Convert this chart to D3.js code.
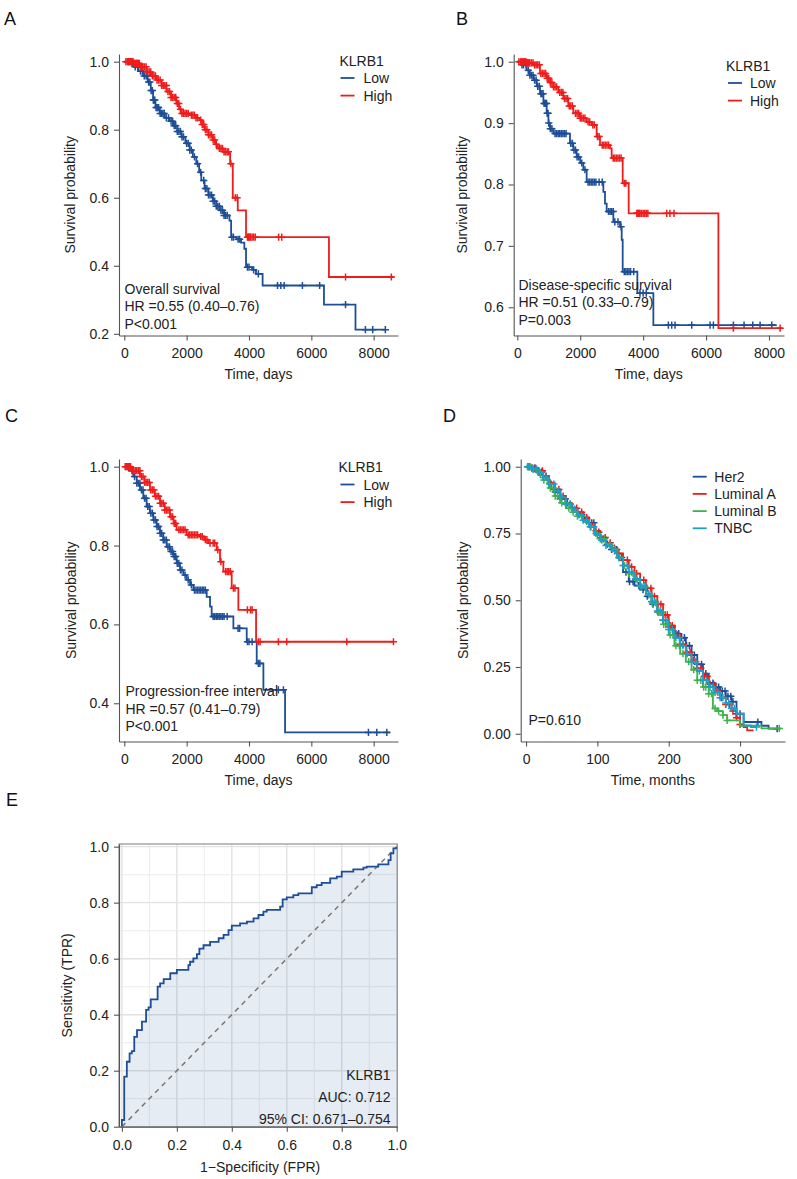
<!DOCTYPE html>
<html><head><meta charset="utf-8">
<script src="https://cdn.jsdelivr.net/npm/d3@7"></script>
<style>
body{margin:0;background:#fff}
svg text{font-family:'Liberation Sans',Arial,Helvetica,sans-serif}
</style>
</head><body>
<svg id="c" width="797" height="1179"></svg>
<script>
// ---------------- DATA ----------------
// Panel A: overall survival (time in days, survival probability)
const osLowSteps = [[0,1],[150,0.995],[300,0.985],[450,0.972],[600,0.958],[750,0.94],[850,0.915],[925,0.887],[1000,0.865],[1140,0.848],[1300,0.835],[1450,0.825],[1565,0.812],[1700,0.795],[1830,0.779],[1960,0.76],[2096,0.74],[2200,0.72],[2310,0.70],[2400,0.675],[2470,0.651],[2575,0.627],[2700,0.608],[2840,0.59],[2950,0.575],[3054,0.563],[3200,0.548],[3373,0.533],[3426,0.484],[3600,0.478],[3745,0.468],[3850,0.45],[3905,0.396],[4100,0.388],[4224,0.376],[4437,0.342],[6405,0.286],[7416,0.212],[8374,0.212]];
const osLowCensor = [120,250,350,430,520,580,640,700,740,780,820,860,900,930,950,980,1020,1050,1080,1100,1150,1200,1240,1280,1350,1420,1500,1550,1600,1650,1700,1750,1800,1850,1900,2000,2050,2100,2150,2250,2350,2450,2550,2600,2650,2700,2750,2800,2850,2900,2950,3000,3050,3100,3150,3200,3250,3300,3450,3500,3650,3700,3950,4000,4150,4300,4915,5021,5128,5714,6267,7097,7735,7969,8374];
const osHighSteps = [[0,1],[287,0.995],[500,0.985],[713,0.97],[870,0.958],[1032,0.946],[1200,0.93],[1351,0.912],[1500,0.895],[1670,0.877],[1760,0.86],[1830,0.848],[2096,0.843],[2300,0.835],[2415,0.828],[2500,0.815],[2575,0.80],[2700,0.785],[2840,0.77],[2920,0.757],[3000,0.745],[3160,0.735],[3373,0.73],[3394,0.70],[3480,0.60],[3640,0.563],[3905,0.484],[6565,0.367],[8640,0.367]];
const osHighCensor = [50,100,130,150,180,200,230,250,280,300,330,350,380,400,420,450,480,520,550,580,600,650,700,750,800,850,900,950,1000,1050,1100,1150,1200,1250,1300,1350,1400,1450,1500,1550,1600,1650,1700,1750,1800,1850,1900,1950,2000,2050,2150,2200,2250,2300,2350,2450,2500,2550,2600,2650,2700,2750,2800,2850,2900,2950,3050,3100,3150,3200,3250,3300,3340,3420,3560,3620,3950,3980,4000,4030,4050,4100,4150,4200,4950,5050,7097,8566];

// Panel B: disease-specific survival
const dssLowSteps = [[0,1],[150,0.995],[297,0.986],[400,0.978],[509,0.970],[620,0.96],[721,0.948],[830,0.932],[933,0.916],[990,0.90],[1039,0.891],[1145,0.883],[1675,0.867],[1780,0.856],[1887,0.845],[2000,0.835],[2099,0.824],[2205,0.804],[2735,0.788],[2788,0.769],[2841,0.756],[3053,0.739],[3265,0.731],[3318,0.710],[3350,0.658],[3816,0.623],[4325,0.571],[8247,0.571]];
const dssLowCensor = [150,200,280,350,400,450,500,550,600,650,700,750,780,820,850,880,900,930,950,980,1000,1050,1100,1200,1250,1300,1350,1400,1450,1500,1550,1700,1750,1800,1850,1900,1950,2050,2150,2250,2300,2350,2400,2450,2500,2600,2700,2900,2950,3000,3050,3100,3200,3300,3400,3450,3500,3550,3600,3700,3900,4000,4100,4802,4908,5014,5544,6127,6233,6869,7208,7484,7717,8088];
const dssHighSteps = [[0,1],[300,0.998],[509,0.995],[721,0.981],[933,0.973],[1040,0.966],[1145,0.959],[1300,0.95],[1463,0.940],[1620,0.928],[1781,0.916],[1993,0.908],[2200,0.902],[2364,0.897],[2523,0.878],[2629,0.864],[2947,0.859],[3000,0.843],[3350,0.802],[3540,0.753],[6392,0.566],[8438,0.566]];
const dssHighCensor = [50,100,130,150,180,200,230,250,280,300,330,350,380,400,450,500,550,600,650,700,750,800,850,900,950,1000,1050,1100,1150,1200,1250,1350,1400,1450,1500,1550,1600,1650,1700,1750,1850,1900,1950,2000,2050,2100,2150,2250,2300,2400,2450,2550,2600,2700,2750,2800,2850,2900,3050,3100,3150,3200,3250,3300,3400,3450,3800,3830,3850,3880,3900,3950,4000,4050,4100,4150,4750,4850,4980,6869,8353];

// Panel C: progression-free interval
const pfiLowSteps = [[0,1],[150,0.99],[289,0.975],[400,0.958],[503,0.941],[610,0.92],[717,0.899],[820,0.882],[931,0.865],[1040,0.848],[1145,0.831],[1250,0.814],[1359,0.797],[1470,0.785],[1573,0.772],[1680,0.755],[1787,0.738],[1900,0.725],[2001,0.713],[2110,0.70],[2215,0.687],[2643,0.670],[2750,0.645],[2803,0.620],[3499,0.590],[3927,0.556],[4248,0.501],[4462,0.434],[5157,0.326],[8528,0.326]];
const pfiLowCensor = [120,250,330,400,450,500,550,600,650,700,750,800,850,900,950,1000,1050,1100,1150,1200,1250,1300,1350,1400,1450,1500,1550,1600,1650,1700,1750,1800,1850,1950,2050,2150,2250,2300,2350,2400,2450,2500,2550,2600,2850,2900,2950,3000,3050,3100,3150,3200,3300,3650,3700,3950,4000,4100,4300,4350,4943,5104,7832,8100,8421];
const pfiHighSteps = [[0,1],[250,0.99],[503,0.975],[650,0.96],[824,0.941],[980,0.925],[1145,0.907],[1300,0.89],[1466,0.873],[1580,0.856],[1680,0.84],[2001,0.827],[2429,0.823],[2560,0.815],[2696,0.806],[2964,0.789],[3071,0.759],[3178,0.734],[3445,0.692],[3659,0.637],[4227,0.556],[8635,0.556]];
const pfiHighCensor = [30,60,100,130,150,180,200,250,300,350,400,450,500,550,600,650,700,750,800,850,900,950,1000,1050,1100,1150,1200,1250,1300,1350,1400,1450,1500,1550,1600,1650,1750,1800,1850,1900,1950,2050,2100,2150,2200,2250,2300,2350,2450,2500,2600,2650,2750,2850,2900,3000,3100,3250,3300,3350,3400,3500,3550,3950,4050,4100,4300,4355,4943,5210,7137,8635];

// Panel D: subtypes (time in months)
const subtypeNames = ["Her2","Luminal A","Luminal B","TNBC"];
const her2Steps = [[0,1],[8,0.995],[16,0.98],[24,0.962],[32,0.935],[40,0.905],[48,0.88],[56,0.86],[64,0.84],[72,0.822],[80,0.805],[88,0.79],[96,0.755],[104,0.73],[112,0.71],[120,0.69],[128,0.66],[136,0.605],[144,0.57],[152,0.555],[160,0.54],[168,0.515],[176,0.485],[184,0.455],[192,0.425],[200,0.40],[208,0.375],[216,0.36],[224,0.33],[232,0.295],[240,0.26],[248,0.225],[256,0.19],[264,0.175],[272,0.16],[280,0.14],[288,0.12],[295,0.075],[305,0.044],[330,0.03],[340,0.019],[352,0.019]];
const lumASteps = [[0,1],[8,0.995],[16,0.985],[24,0.965],[32,0.94],[40,0.915],[48,0.89],[56,0.865],[64,0.845],[72,0.83],[80,0.81],[88,0.785],[96,0.76],[104,0.735],[112,0.715],[120,0.695],[128,0.675],[136,0.65],[144,0.625],[152,0.60],[160,0.575],[168,0.545],[176,0.515],[184,0.485],[192,0.445],[200,0.405],[208,0.37],[216,0.335],[224,0.305],[232,0.275],[240,0.245],[248,0.215],[256,0.185],[264,0.16],[272,0.135],[280,0.11],[288,0.085],[295,0.06],[300,0.035],[305,0.025],[310,0.0125],[319,0.0125]];
const lumBSteps = [[0,1],[8,0.99],[16,0.975],[24,0.95],[32,0.92],[40,0.89],[48,0.865],[56,0.845],[64,0.83],[72,0.815],[80,0.795],[88,0.775],[96,0.75],[104,0.73],[112,0.71],[120,0.69],[128,0.66],[136,0.63],[144,0.60],[152,0.575],[160,0.55],[168,0.52],[176,0.49],[184,0.455],[192,0.41],[200,0.37],[208,0.33],[216,0.30],[224,0.27],[232,0.24],[240,0.20],[248,0.175],[256,0.15],[262,0.095],[268,0.085],[276,0.07],[282,0.05],[300,0.03],[330,0.02],[356,0.019]];
const tnbcSteps = [[0,1],[8,0.993],[16,0.98],[24,0.96],[32,0.935],[40,0.91],[48,0.885],[56,0.86],[64,0.84],[72,0.82],[80,0.80],[88,0.775],[96,0.745],[104,0.725],[112,0.705],[120,0.685],[128,0.66],[136,0.63],[144,0.605],[152,0.58],[160,0.555],[168,0.525],[176,0.495],[184,0.46],[192,0.425],[200,0.39],[208,0.36],[216,0.33],[224,0.30],[232,0.27],[240,0.235],[248,0.20],[256,0.175],[264,0.155],[272,0.135],[280,0.115],[288,0.095],[295,0.075],[305,0.031],[315,0.025],[323,0.025]];
const her2Censor = [3,5,9,12,17,22,28,35,41,48,55,62,68,75,78,82,85,88,92,95,102,108,114,120,127,134,140,145,150,158,164,170,178,185,192,200,205,210,214,218,222,225,229,232,236,240,246,252,257,262,266,270,275,279,283,287,290,295,300,325,352];
const lumACensor = [4,8,13,18,23,28,34,40,46,52,58,65,71,78,85,92,98,105,111,118,124,130,136,142,148,155,160,165,170,175,180,185,189,192,195,198,202,205,209,212,216,220,225,230,235,240,245,250,254,258,263,268,274,280,285,290,295,300];
const lumBCensor = [3,6,10,15,20,25,30,34,38,41,44,47,50,55,60,66,72,78,85,91,98,104,110,117,125,131,138,144,150,156,162,167,172,177,182,186,190,193,196,199,202,206,210,215,220,228,235,240,245,249,252,256,260,265,270,276,282,355];
const tnbcCensor = [2,4,9,14,19,24,28,33,39,45,50,56,62,68,74,80,85,90,95,100,106,112,118,124,130,136,142,148,154,160,166,172,176,180,184,188,192,196,200,205,210,215,220,226,232,238,243,248,253,258,262,265,269,272,276,280,284,288,292,323];

// Panel E: ROC (FPR, TPR)
const rocPoints = [[0,0],[0,0.024],[0.0085,0.179],[0.018,0.232],[0.028,0.262],[0.036,0.27],[0.045,0.321],[0.055,0.345],[0.073,0.375],[0.088,0.417],[0.097,0.426],[0.105,0.455],[0.13,0.5],[0.139,0.512],[0.152,0.527],[0.176,0.548],[0.2,0.56],[0.242,0.577],[0.248,0.589],[0.26,0.601],[0.273,0.616],[0.282,0.636],[0.297,0.648],[0.321,0.66],[0.352,0.673],[0.37,0.685],[0.388,0.702],[0.4,0.718],[0.43,0.726],[0.455,0.732],[0.479,0.744],[0.497,0.756],[0.515,0.768],[0.527,0.774],[0.576,0.786],[0.585,0.812],[0.6,0.819],[0.624,0.827],[0.642,0.833],[0.691,0.855],[0.709,0.863],[0.727,0.871],[0.758,0.887],[0.782,0.893],[0.8,0.911],[0.842,0.919],[0.879,0.925],[0.891,0.929],[0.933,0.937],[0.97,0.952],[0.978,0.976],[0.988,0.994],[1,1]];

const kmYTicksA = [0.2,0.4,0.6,0.8,1.0];
const kmYTicksB = [0.6,0.7,0.8,0.9,1.0];
const kmYTicksC = [0.4,0.6,0.8,1.0];
const dayTicks = [0,2000,4000,6000,8000];
const monthTicks = [0,100,200,300];
const dYTicks = [0,0.25,0.5,0.75,1.0];
const rocTicks = [0,0.2,0.4,0.6,0.8,1.0];

// ---------------- DRAWING ----------------
const svg = d3.select('#c');
const BLUE = '#1d4e96', RED = '#f01c1c', GREEN = '#3fb24a', TEAL = '#1f9ec6';
const FS = 14;

function survAt(steps, t){ let s = steps[0][1]; for (const p of steps){ if (p[0] <= t) s = p[1]; else break; } return s; }

function styleAxis(g){
  g.attr('font-size', null).attr('font-family', null);
  g.select('.domain').attr('stroke', '#555').attr('stroke-width', 1.1);
  g.selectAll('.tick line').attr('stroke', '#555').attr('stroke-width', 1.1);
  g.selectAll('.tick text').attr('fill', '#222').style('font-size', FS + 'px');
}

function kmPanel(c){
  const x = d3.scaleLinear().domain(c.xDom).range(c.xRange);
  const y = d3.scaleLinear().domain(c.yDom).range(c.yRange);
  const g = svg.append('g');
  const ax = g.append('g').attr('transform', `translate(0,${c.yRange[0]})`)
    .call(d3.axisBottom(x).tickValues(c.xTicks).tickSize(5).tickPadding(8).tickSizeOuter(0).tickFormat(d3.format('d')));
  styleAxis(ax);
  const ay = g.append('g').attr('transform', `translate(${c.xRange[0]},0)`)
    .call(d3.axisLeft(y).tickValues(c.yTicks).tickSize(5).tickPadding(5).tickSizeOuter(0).tickFormat(d3.format(c.yFmt)));
  styleAxis(ay);
  const line = d3.line().curve(d3.curveStepAfter).x(d => x(d[0])).y(d => y(d[1]));
  c.curves.forEach(cv => {
    g.append('path').attr('d', line(cv.steps)).attr('fill', 'none').attr('stroke', cv.color).attr('stroke-width', 1.8);
    const cs = g.append('g').attr('stroke', cv.color).attr('stroke-width', 1.5);
    cv.censor.forEach(t => {
      const px = x(t), py = y(survAt(cv.steps, t));
      cs.append('path').attr('d', `M${px-3.6},${py}H${px+3.6}M${px},${py-3.6}V${py+3.6}`);
    });
  });
  // axis titles
  g.append('text').attr('x', (c.xRange[0] + c.xRange[1]) / 2).attr('y', c.yRange[0] + 43)
    .attr('text-anchor', 'middle').attr('fill', '#222').style('font-size', FS + 'px').text(c.xTitle);
  g.append('text').attr('transform', `translate(${c.yTitleX},${(c.yRange[0] + c.yRange[1]) / 2}) rotate(-90)`)
    .attr('text-anchor', 'middle').attr('fill', '#222').style('font-size', FS + 'px').text('Survival probability');
  // legend
  const lg = g.append('g').attr('transform', `translate(${c.legend.x},${c.legend.y})`);
  let off = 0;
  if (c.legend.title){
    lg.append('text').attr('x', 0).attr('y', 5).attr('fill', '#222').style('font-size', FS + 'px').text(c.legend.title);
    off = 17.5;
  }
  c.legend.items.forEach((it, i) => {
    const yy = off + i * c.legend.gap;
    lg.append('line').attr('x1', c.legend.lx).attr('x2', c.legend.lx + 14).attr('y1', yy).attr('y2', yy)
      .attr('stroke', it.color).attr('stroke-width', 1.8);
    lg.append('text').attr('x', c.legend.tx).attr('y', yy + 5).attr('fill', '#222').style('font-size', FS + 'px').text(it.label);
  });
  // annotations
  c.annot.forEach((t, i) => {
    g.append('text').attr('x', c.annotX).attr('y', c.annotY + i * 17.6).attr('fill', '#222').style('font-size', FS + 'px').text(t);
  });
}

function panelLabel(t, x, y){
  svg.append('text').attr('x', x).attr('y', y).attr('fill', '#111').style('font-size', '18px').text(t);
}

const lowHighLegend = [{label: 'Low', color: BLUE}, {label: 'High', color: RED}];

kmPanel({
  xDom: [-170, 8780], xRange: [119, 398], yDom: [0.195, 1.0226], yRange: [335.5, 54],
  xTicks: dayTicks, yTicks: kmYTicksA, yFmt: '.1f', xTitle: 'Time, days', yTitleX: 75,
  curves: [{steps: osLowSteps, censor: osLowCensor, color: BLUE}, {steps: osHighSteps, censor: osHighCensor, color: RED}],
  legend: {x: 339.5, y: 60.5, title: 'KLRB1', lx: 1, tx: 24, gap: 17.6, items: lowHighLegend},
  annot: ['Overall survival', 'HR =0.55 (0.40\u20130.76)', 'P<0.001'], annotX: 124.5, annotY: 293.5
});
kmPanel({
  xDom: [-114, 8477], xRange: [513.7, 784], yDom: [0.554, 1.0126], yRange: [335.5, 54],
  xTicks: dayTicks, yTicks: kmYTicksB, yFmt: '.1f', xTitle: 'Time, days', yTitleX: 467,
  curves: [{steps: dssLowSteps, censor: dssLowCensor, color: BLUE}, {steps: dssHighSteps, censor: dssHighCensor, color: RED}],
  legend: {x: 726, y: 65.5, title: 'KLRB1', lx: 2, tx: 24, gap: 17.6, items: lowHighLegend},
  annot: ['Disease-specific survival', 'HR =0.51 (0.33\u20130.79)', 'P=0.003'], annotX: 518.5, annotY: 289.5
});
kmPanel({
  xDom: [-170, 8780], xRange: [119, 398], yDom: [0.303, 1.0195], yRange: [741.5, 459],
  xTicks: dayTicks, yTicks: kmYTicksC, yFmt: '.1f', xTitle: 'Time, days', yTitleX: 76,
  curves: [{steps: pfiLowSteps, censor: pfiLowCensor, color: BLUE}, {steps: pfiHighSteps, censor: pfiHighCensor, color: RED}],
  legend: {x: 338.5, y: 467, title: 'KLRB1', lx: 2, tx: 25, gap: 17.6, items: lowHighLegend},
  annot: ['Progression-free interval', 'HR =0.57 (0.41\u20130.79)', 'P<0.001'], annotX: 125.5, annotY: 696
});
kmPanel({
  xDom: [-7.5, 363], xRange: [520.7, 785], yDom: [-0.029, 1.029], yRange: [741.5, 459],
  xTicks: monthTicks, yTicks: dYTicks, yFmt: '.2f', xTitle: 'Time, months', yTitleX: 468,
  curves: [
    {steps: her2Steps, censor: her2Censor, color: BLUE},
    {steps: lumASteps, censor: lumACensor, color: RED},
    {steps: lumBSteps, censor: lumBCensor, color: GREEN},
    {steps: tnbcSteps, censor: tnbcCensor, color: TEAL}],
  legend: {x: 692.7, y: 476.7, title: null, lx: 0, tx: 21.6, gap: 17.2,
    items: subtypeNames.map((n, i) => ({label: n, color: [BLUE, RED, GREEN, TEAL][i]}))},
  annot: ['P=0.610'], annotX: 528.5, annotY: 725
});

// ---------- Panel E: ROC ----------
(function(){
  const x = d3.scaleLinear().domain([-0.0105, 1.0022]).range([119, 397.3]);
  const y = d3.scaleLinear().domain([0, 1.0095]).range([1126.7, 844]);
  const g = svg.append('g');
  const [x0, x1] = x.range(), [yb, yt] = y.range();
  const grid = d3.range(0, 11).map(i => i / 10);
  grid.forEach(v => {
    const major = Math.round(v * 10) % 2 === 0;
    g.append('line').attr('x1', x(v)).attr('x2', x(v)).attr('y1', yt).attr('y2', yb)
      .attr('stroke', major ? '#e2e2e2' : '#ececec').attr('stroke-width', major ? 1.4 : 1);
    g.append('line').attr('x1', x0).attr('x2', x1).attr('y1', y(v)).attr('y2', y(v))
      .attr('stroke', major ? '#e2e2e2' : '#ececec').attr('stroke-width', major ? 1.4 : 1);
  });
  const area = d3.area().curve(d3.curveStepAfter).x(d => x(d[0])).y0(y(0)).y1(d => y(d[1]));
  g.append('path').attr('d', area(rocPoints)).attr('fill', BLUE).attr('fill-opacity', 0.11);
  g.append('line').attr('x1', x(0)).attr('y1', y(0)).attr('x2', x(1)).attr('y2', y(1))
    .attr('stroke', '#777').attr('stroke-width', 1.5).attr('stroke-dasharray', '5,4.5');
  const line = d3.line().curve(d3.curveStepAfter).x(d => x(d[0])).y(d => y(d[1]));
  g.append('path').attr('d', line(rocPoints)).attr('fill', 'none').attr('stroke', BLUE).attr('stroke-width', 1.8);
  g.append('rect').attr('x', x0).attr('y', yt).attr('width', x1 - x0).attr('height', yb - yt)
    .attr('fill', 'none').attr('stroke', '#888').attr('stroke-width', 1.1);
  const ax = g.append('g').attr('transform', `translate(0,${yb})`)
    .call(d3.axisBottom(x).tickValues(rocTicks).tickSize(5).tickPadding(8).tickSizeOuter(0).tickFormat(d3.format('.1f')));
  styleAxis(ax);
  const ay = g.append('g').attr('transform', `translate(${x0},0)`)
    .call(d3.axisLeft(y).tickValues(rocTicks).tickSize(5).tickPadding(5).tickSizeOuter(0).tickFormat(d3.format('.1f')));
  styleAxis(ay);
  g.append('text').attr('x', (x0 + x1) / 2 + 2).attr('y', 1172).attr('text-anchor', 'middle').attr('fill', '#222')
    .style('font-size', FS + 'px').text('1\u2212Specificity (FPR)');
  g.append('text').attr('transform', `translate(72,${(yb + yt) / 2}) rotate(-90)`).attr('text-anchor', 'middle')
    .attr('fill', '#222').style('font-size', FS + 'px').text('Sensitivity (TPR)');
  ['KLRB1', 'AUC: 0.712', '95% CI: 0.671\u20130.754'].forEach((t, i) => {
    g.append('text').attr('x', 390.5).attr('y', 1080 + i * 22).attr('text-anchor', 'end').attr('fill', '#222')
      .style('font-size', FS + 'px').text(t);
  });
})();

panelLabel('A', 4, 25);
panelLabel('B', 456, 25);
panelLabel('C', 5, 421.5);
panelLabel('D', 443, 421.5);
panelLabel('E', 6, 806);
</script>
</body></html>
